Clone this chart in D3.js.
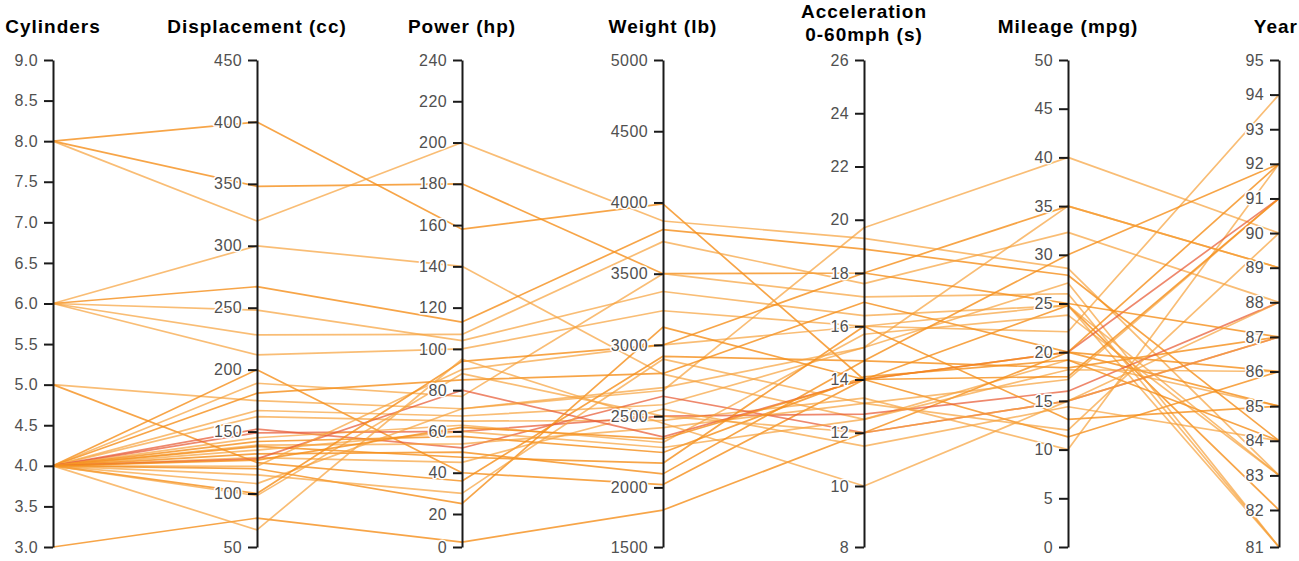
<!DOCTYPE html>
<html><head><meta charset="utf-8">
<script src="https://cdn.jsdelivr.net/npm/d3@7"></script>
<style>
body{margin:0;background:#fff;}
svg{display:block;font-family:"Liberation Sans",Arial,Helvetica,sans-serif;}
</style>
</head><body>
<svg id="chart" width="1299" height="561"></svg>
<script>
// ---------------- DATA ----------------
const dimensions = ["Cylinders","Displacement (cc)","Power (hp)","Weight (lb)","Acceleration\n0-60mph (s)","Mileage (mpg)","Year"];

const cylinders    = [8,8,8, 6,6,6,6,6, 5,5, 3, 4,4,4,4,4,4,4,4,4,4,4,4,4,4,4,4,4,4,4,4,4,4,4];
const displacement = [400,348,320, 300,267,248,228,212, 175,125, 77, 200,189,181,167,162,152,149,145,142,139,138,135,132,129,128,122,120,115,108,100,98,66,127];
const power        = [158,180,200, 140,113,104,107,100, 71,36, 3, 40,77,85,67.5,65,52,60,63,57.6,54,47.5,60,50,45,80,90,25,30,71,94,88,95,62];
const weight       = [3990,3500,3870, 2795,3810,3375,3725,3240, 2680,2920, 1810, 2020,3500,2800,2580,2470,2640,2500,2315,2245,2420,2170,2280,2095,2550,2355,3000,3125,2900,2700,3000,2500,2450,2340];
const acceleration = [14.0,18.0,19.3, 12.5,18.9,16.4,17.6,16.0, 19.7,14.7, 12.0, 14.0,17.1,16.9,15.2,13.3,12.0,12.7,15.7,14.1,13.1,16.0,12.5,14.7,11.5,14.0,16.0,14.0,13.1,15.2,18.0,12.0,10.0,14.0];
const mileage      = [11.3,35,28.6, 19.2,27.9,24.8,32.3,22.1, 40,18.4, 20.0, 24.8,26.0,20.0,27.1,10.0,15.0,16.0,23.8,19.2,17.2,13.1,18.2,30,14.4,20,24.8,17.5,12.0,35,25,15.0,15.0,20.0];
const year         = [86,89,83, 85,84,81,88,94, 90,87, 86, 82,81,85,81,92,87,88,83,84,91,85,86,92,84,91,83,91,90,89,87,88,87,92];

// tick labels of each axis (ascending)
const cylinderTicks     = [3.0,3.5,4.0,4.5,5.0,5.5,6.0,6.5,7.0,7.5,8.0,8.5,9.0];
const displacementTicks = [50,100,150,200,250,300,350,400,450];
const powerTicks        = [0,20,40,60,80,100,120,140,160,180,200,220,240];
const weightTicks       = [1500,2000,2500,3000,3500,4000,4500,5000];
const accelerationTicks = [8,10,12,14,16,18,20,22,24,26];
const mileageTicks      = [0,5,10,15,20,25,30,35,40,45,50];
const yearTicks         = [81,82,83,84,85,86,87,88,89,90,91,92,93,94,95];

// ---------------- STYLE / LAYOUT ----------------
const lineTone = [1,1,0, 0,1,0,0,0, 0,1, 1, 1,0,1,0,0,2,2,0,1,0,1,0,1,0,2,0,1,0,0,1,0,0,1];

const columns = [cylinders, displacement, power, weight, acceleration, mileage, year];
const tickSets = [cylinderTicks, displacementTicks, powerTicks, weightTicks, accelerationTicks, mileageTicks, yearTicks];
const formats = [d3.format(".1f"), d3.format("d"), d3.format("d"), d3.format("d"), d3.format("d"), d3.format("d"), d3.format("d")];

const plotTop = 60, plotBottom = 547;
const axisX = [53, 257, 462, 663, 864, 1068, 1279];
const lastGap = [40.6, 53.5, 33, 59.6, 61, 48.7, 37];

const x = d3.scaleOrdinal().domain(dimensions).range(axisX);
const scales = tickSets.map((t, i) =>
  d3.scaleLinear()
    .domain([t[0], t[1], t[t.length - 1]])
    .range([plotBottom, plotBottom - lastGap[i], plotTop])
);

const rows = cylinders.map((_, r) => columns.map(c => c[r]));

const svg = d3.select("#chart");

const toneColor = ["#f7a13a", "#f58e1a", "#e85a35"];
const toneOpacity = [0.7, 0.8, 0.72];

const line = d3.line()
  .x((d, i) => x(dimensions[i]))
  .y((d, i) => scales[i](d));

svg.append("g").attr("fill", "none")
  .selectAll("path").data(rows).join("path")
  .attr("d", line)
  .attr("stroke", (d, r) => toneColor[lineTone[r]])
  .attr("stroke-opacity", (d, r) => toneOpacity[lineTone[r]])
  .attr("stroke-width", 1.7)
  .attr("stroke-linejoin", "round");

// axes
dimensions.forEach((dim, i) => {
  const g = svg.append("g").attr("transform", `translate(${x(dim)},0)`);
  g.call(d3.axisLeft(scales[i]).tickValues(tickSets[i]).tickFormat(formats[i])
      .tickSize(9).tickSizeOuter(0).tickPadding(6));
  g.select(".domain").attr("stroke", "#1a1a1a").attr("stroke-width", 2);
  g.selectAll(".tick line").attr("stroke", "#1a1a1a").attr("stroke-width", 2);
  g.selectAll(".tick text")
    .attr("fill", "#505050").attr("font-size", 16).attr("letter-spacing", "0.4px")
    .attr("font-family", '"Liberation Sans",Arial,Helvetica,sans-serif')
    .attr("stroke", "#fff").attr("stroke-width", 3).attr("paint-order", "stroke")
    .attr("stroke-linejoin", "round");

  const parts = dim.split("\n");
  const t = svg.append("text")
    .attr("text-anchor", "middle")
    .attr("font-weight", "bold").attr("font-size", 19).attr("letter-spacing", "1px")
    .attr("fill", "#000")
    .attr("stroke", "#fff").attr("stroke-width", 3).attr("paint-order", "stroke");
  if (parts.length === 1) {
    t.append("tspan").attr("x", x(dim)).attr("y", 33).text(parts[0]);
  } else {
    parts.forEach((p, k) => t.append("tspan").attr("x", x(dim)).attr("y", 18 + k * 23).text(p));
  }
  const bb = t.node().getBBox();
  if (bb.x + bb.width > 1298) t.selectAll("tspan").attr("x", x(dim) - (bb.x + bb.width - 1298));
  if (bb.x < 2) t.selectAll("tspan").attr("x", x(dim) + (2 - bb.x));
});
</script>
</body></html>
